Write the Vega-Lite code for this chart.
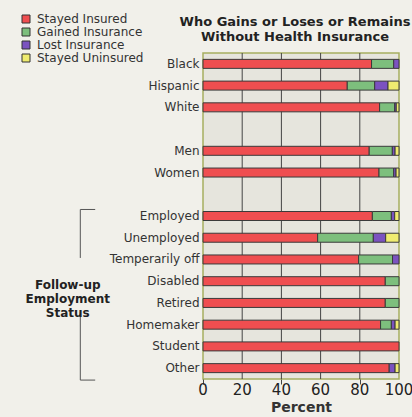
{
  "$schema": "https://vega.github.io/schema/vega-lite/v6.json",
  "width": 196,
  "height": 326,
  "autosize": {"type": "none"},
  "padding": {"left": 203, "top": 53, "right": 13, "bottom": 38},
  "background": "#f1f0ea",
  "config": {
    "view": {"fill": "#e6e5dd", "stroke": "#a6ae60", "strokeWidth": 1.5},
    "font": "DejaVu Sans"
  },
  "title": {
    "text": ["Who Gains or Loses or Remains", "Without Health Insurance"],
    "fontSize": 13,
    "fontWeight": "bold",
    "color": "#222222",
    "lineHeight": 15,
    "anchor": "middle",
    "frame": "group",
    "dx": -6,
    "offset": -31
  },
  "layer": [
    {
      "data": {"values": [{"g": 20}, {"g": 40}, {"g": 60}, {"g": 80}]},
      "mark": {"type": "rule", "color": "#444444", "strokeWidth": 1},
      "encoding": {
        "x": {
          "field": "g",
          "type": "quantitative",
          "scale": {"domain": [0, 100], "nice": false},
          "axis": {
            "values": [0, 20, 40, 60, 80, 100],
            "labels": false,
            "grid": false,
            "title": "Percent",
            "titleFontSize": 14,
            "titleFontWeight": "bold",
            "titleColor": "#333333",
            "titlePadding": 16,
            "tickColor": "#444444",
            "tickSize": 5,
            "domain": false
          }
        }
      }
    },
    {
      "data": {"values": [{"t": 0}, {"t": 20}, {"t": 40}, {"t": 60}, {"t": 80}, {"t": 100}]},
      "transform": [{"calculate": "'Other'", "as": "row"}],
      "mark": {"type": "text", "fontSize": 15, "color": "#222222", "baseline": "middle", "align": "center"},
      "encoding": {
        "x": {"field": "t", "type": "quantitative"},
        "y": {"field": "row", "bandPosition": 1.5},
        "text": {"field": "t", "type": "quantitative"}
      }
    },
    {
      "data": {
        "values": [
          {"group": "Black", "status": "Stayed Insured", "ord": 1, "value": 86},
          {"group": "Black", "status": "Gained Insurance", "ord": 2, "value": 11.3},
          {"group": "Black", "status": "Lost Insurance", "ord": 3, "value": 2.7},
          {"group": "Hispanic", "status": "Stayed Insured", "ord": 1, "value": 73.6},
          {"group": "Hispanic", "status": "Gained Insurance", "ord": 2, "value": 14},
          {"group": "Hispanic", "status": "Lost Insurance", "ord": 3, "value": 6.8},
          {"group": "Hispanic", "status": "Stayed Uninsured", "ord": 4, "value": 5.6},
          {"group": "White", "status": "Stayed Insured", "ord": 1, "value": 90.1},
          {"group": "White", "status": "Gained Insurance", "ord": 2, "value": 7.7},
          {"group": "White", "status": "Lost Insurance", "ord": 3, "value": 0.8},
          {"group": "White", "status": "Stayed Uninsured", "ord": 4, "value": 1.4},
          {"group": "Men", "status": "Stayed Insured", "ord": 1, "value": 84.8},
          {"group": "Men", "status": "Gained Insurance", "ord": 2, "value": 11.8},
          {"group": "Men", "status": "Lost Insurance", "ord": 3, "value": 1.4},
          {"group": "Men", "status": "Stayed Uninsured", "ord": 4, "value": 2},
          {"group": "Women", "status": "Stayed Insured", "ord": 1, "value": 89.8},
          {"group": "Women", "status": "Gained Insurance", "ord": 2, "value": 7.5},
          {"group": "Women", "status": "Lost Insurance", "ord": 3, "value": 1.2},
          {"group": "Women", "status": "Stayed Uninsured", "ord": 4, "value": 1.5},
          {"group": "Employed", "status": "Stayed Insured", "ord": 1, "value": 86.4},
          {"group": "Employed", "status": "Gained Insurance", "ord": 2, "value": 9.7},
          {"group": "Employed", "status": "Lost Insurance", "ord": 3, "value": 1.7},
          {"group": "Employed", "status": "Stayed Uninsured", "ord": 4, "value": 2.2},
          {"group": "Unemployed", "status": "Stayed Insured", "ord": 1, "value": 58.5},
          {"group": "Unemployed", "status": "Gained Insurance", "ord": 2, "value": 28.4},
          {"group": "Unemployed", "status": "Lost Insurance", "ord": 3, "value": 6.3},
          {"group": "Unemployed", "status": "Stayed Uninsured", "ord": 4, "value": 6.8},
          {"group": "Temperarily off", "status": "Stayed Insured", "ord": 1, "value": 79.4},
          {"group": "Temperarily off", "status": "Gained Insurance", "ord": 2, "value": 17.3},
          {"group": "Temperarily off", "status": "Lost Insurance", "ord": 3, "value": 3.3},
          {"group": "Disabled", "status": "Stayed Insured", "ord": 1, "value": 93},
          {"group": "Disabled", "status": "Gained Insurance", "ord": 2, "value": 7},
          {"group": "Retired", "status": "Stayed Insured", "ord": 1, "value": 93},
          {"group": "Retired", "status": "Gained Insurance", "ord": 2, "value": 7},
          {"group": "Homemaker", "status": "Stayed Insured", "ord": 1, "value": 90.6},
          {"group": "Homemaker", "status": "Gained Insurance", "ord": 2, "value": 5.5},
          {"group": "Homemaker", "status": "Lost Insurance", "ord": 3, "value": 1.9},
          {"group": "Homemaker", "status": "Stayed Uninsured", "ord": 4, "value": 2},
          {"group": "Student", "status": "Stayed Insured", "ord": 1, "value": 100},
          {"group": "Other", "status": "Stayed Insured", "ord": 1, "value": 95},
          {"group": "Other", "status": "Lost Insurance", "ord": 3, "value": 3},
          {"group": "Other", "status": "Stayed Uninsured", "ord": 4, "value": 2}
        ]
      },
      "mark": {"type": "bar", "size": 9, "stroke": "#3a3a3a", "strokeWidth": 1},
      "encoding": {
        "y": {
          "field": "group",
          "type": "nominal",
          "sort": null,
          "scale": {
            "domain": ["Black", "Hispanic", "White", " ", "Men", "Women", "  ", "Employed", "Unemployed", "Temperarily off", "Disabled", "Retired", "Homemaker", "Student", "Other"],
            "paddingInner": 0,
            "paddingOuter": 0
          },
          "axis": {
            "title": null,
            "ticks": false,
            "domain": false,
            "labelFontSize": 12,
            "labelColor": "#333333",
            "labelPadding": 4
          }
        },
        "x": {
          "field": "value",
          "type": "quantitative",
          "stack": "zero"
        },
        "color": {
          "field": "status",
          "type": "nominal",
          "scale": {
            "domain": ["Stayed Insured", "Gained Insurance", "Lost Insurance", "Stayed Uninsured"],
            "range": ["#ef4e50", "#7dbf7d", "#7b52c0", "#efec70"]
          },
          "legend": {
            "orient": "none",
            "legendX": -183,
            "legendY": -40,
            "title": null,
            "symbolType": "square",
            "symbolSize": 64,
            "symbolStrokeColor": "#333333",
            "symbolStrokeWidth": 1,
            "symbolOpacity": 1,
            "labelFontSize": 12,
            "labelColor": "#333333",
            "labelOffset": 5,
            "rowPadding": 1
          }
        },
        "order": {"field": "ord"}
      }
    },
    {
      "data": {"values": [{"a": "Employed", "b": "Temperarily off", "c": "Retired", "d": "Other", "e": "Disabled"}]},
      "layer": [
        {
          "mark": {"type": "rule", "color": "#555555", "strokeWidth": 1},
          "encoding": {
            "x": {"datum": -62.6},
            "y": {"field": "a", "bandPosition": 0.2},
            "y2": {"field": "b", "bandPosition": 0.43}
          }
        },
        {
          "mark": {"type": "rule", "color": "#555555", "strokeWidth": 1},
          "encoding": {
            "x": {"datum": -62.6},
            "y": {"field": "c", "bandPosition": 0.93},
            "y2": {"field": "d", "bandPosition": 1.05}
          }
        },
        {
          "mark": {"type": "rule", "color": "#555555", "strokeWidth": 1},
          "encoding": {
            "x": {"datum": -62.6},
            "x2": {"datum": -55},
            "y": {"field": "a", "bandPosition": 0.2}
          }
        },
        {
          "mark": {"type": "rule", "color": "#555555", "strokeWidth": 1},
          "encoding": {
            "x": {"datum": -62.6},
            "x2": {"datum": -55},
            "y": {"field": "d", "bandPosition": 1.05}
          }
        },
        {
          "mark": {"type": "text", "text": ["Follow-up", "Employment", "Status"], "fontSize": 12, "fontWeight": "bold", "color": "#222222", "align": "center", "baseline": "middle", "lineHeight": 14, "dy": 4},
          "encoding": {
            "x": {"datum": -69},
            "y": {"field": "e"}
          }
        }
      ]
    }
  ]
}
